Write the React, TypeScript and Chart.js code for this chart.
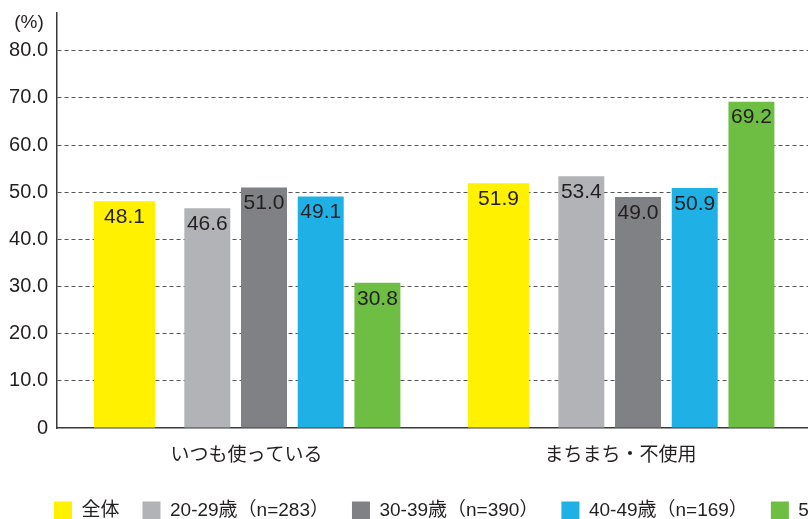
import React, { useEffect, useRef } from 'react';
import { Chart, registerables } from 'chart.js';

Chart.register(...registerables);

// Categories (x axis) and series
const categories = ['いつも使っている', 'まちまち・不使用'];
const seriesNames = ['全体', '20-29歳（n=283）', '30-39歳（n=390）', '40-49歳（n=169）', '50-59歳'];
const overall = [48.1, 51.9];
const age20s = [46.6, 53.4];
const age30s = [51.0, 49.0];
const age40s = [49.1, 50.9];
const age50s = [30.8, 69.2];
const yTicks = [0, 10, 20, 30, 40, 50, 60, 70, 80];

const seriesColors = ['#fff100', '#b2b3b6', '#808184', '#1fb1e6', '#6fbe44'];

const LATIN = '"Liberation Sans", Arial, "Noto Sans CJK JP", sans-serif';
const CJK = '"Noto Sans CJK JP", "Liberation Sans", sans-serif';
const TEXT = '#231f20';

// Index axis range: category i sits at x = i
const X_MIN = -0.5535;
const X_MAX = 1.8074;
const Y_MAX = 88;

const CANVAS_W = 940;
const CANVAS_H = 530;
const LEGEND_INSET = 31;

const toPoints = (vals: number[]) => vals.map((y, x) => ({ x, y }));

const valueLabels = {
  id: 'valueLabels',
  afterLayout(chart: any) {
    // indent the legend row to line up under the plot
    if (chart.legend) chart.legend.left += LEGEND_INSET;
  },
  afterDatasetsDraw(chart: any) {
    const { ctx, chartArea } = chart;
    ctx.save();
    ctx.fillStyle = TEXT;
    ctx.textAlign = 'center';
    ctx.textBaseline = 'middle';
    ctx.font = `21px ${LATIN}`;
    chart.data.datasets.forEach((ds: any, i: number) => {
      const meta = chart.getDatasetMeta(i);
      meta.data.forEach((bar: any, j: number) => {
        const v = ds.data[j].y as number;
        ctx.fillText(v.toFixed(1), bar.x, bar.y + 16);
      });
    });
    // unit label above the value axis
    ctx.font = `19px ${LATIN}`;
    ctx.fillText('(%)', chartArea.left - 28, chartArea.top + 10);
    ctx.restore();
  },
};

export default function App() {
  const canvasRef = useRef<HTMLCanvasElement | null>(null);

  useEffect(() => {
    if (!canvasRef.current) return;
    const wide = { categoryPercentage: 0.9325, barPercentage: 0.8746 };
    const narrow = { categoryPercentage: 0.758, barPercentage: 0.811 };
    const series = [overall, age20s, age30s, age40s, age50s];

    const chart = new Chart(canvasRef.current, {
      type: 'bar',
      data: {
        datasets: series.map((vals, i) => ({
          label: seriesNames[i],
          data: toPoints(vals),
          backgroundColor: seriesColors[i],
          borderWidth: 0,
          ...(i === 0 ? wide : narrow),
        })),
      },
      options: {
        responsive: true,
        maintainAspectRatio: false,
        animation: false,
        layout: { padding: { left: 0, top: 13, right: 0, bottom: 0 } },
        plugins: {
          legend: {
            position: 'bottom',
            align: 'start',
            labels: {
              boxWidth: 18,
              boxHeight: 18,
              padding: 23,
              color: TEXT,
              font: { size: 19, family: LATIN },
            },
          },
          tooltip: { enabled: false },
        },
        scales: {
          x: {
            type: 'linear',
            min: X_MIN,
            max: X_MAX,
            offset: false,
            bounds: 'data',
            grace: 0,
            grid: { display: false },
            border: { display: true, color: '#3a3a3a', width: 1.5 },
            ticks: {
              color: TEXT,
              font: { size: 19, family: CJK },
              padding: 6,
              labelOffset: -17.5,
              autoSkip: false,
              maxRotation: 0,
              callback: (v: any) => categories[v as number] ?? '',
            },
            afterBuildTicks: (s: any) => {
              s.ticks = categories.map((_, i) => ({ value: i }));
            },
            afterFit: (s: any) => {
              s.height = 50;
              s.paddingLeft = 0;
              s.paddingRight = 0;
            },
          },
          y: {
            min: 0,
            max: Y_MAX,
            grid: {
              drawTicks: false,
              lineWidth: 1,
              color: (c: any) => (c.tick && c.tick.value === 0 ? 'rgba(0,0,0,0)' : '#555555'),
            },
            border: { display: true, color: '#3a3a3a', width: 1.5, dash: [4, 3] },
            ticks: {
              color: TEXT,
              font: { size: 20, family: LATIN },
              padding: 9,
              callback: (v: any) => (v === 0 ? '0' : Number(v).toFixed(1)),
            },
            afterBuildTicks: (s: any) => {
              s.ticks = yTicks.map((v) => ({ value: v }));
            },
            afterFit: (s: any) => {
              s.width = 57;
              s.paddingTop = 0;
              s.paddingBottom = 0;
            },
          },
        },
      },
      plugins: [valueLabels],
    });
    return () => chart.destroy();
  }, []);

  return (
    <div
      style={{
        position: 'fixed',
        left: 0,
        top: 0,
        width: 808,
        height: 519,
        overflow: 'hidden',
        background: '#ffffff',
      }}
    >
      <div style={{ position: 'relative', width: CANVAS_W, height: CANVAS_H }}>
        <canvas ref={canvasRef} />
      </div>
    </div>
  );
}
